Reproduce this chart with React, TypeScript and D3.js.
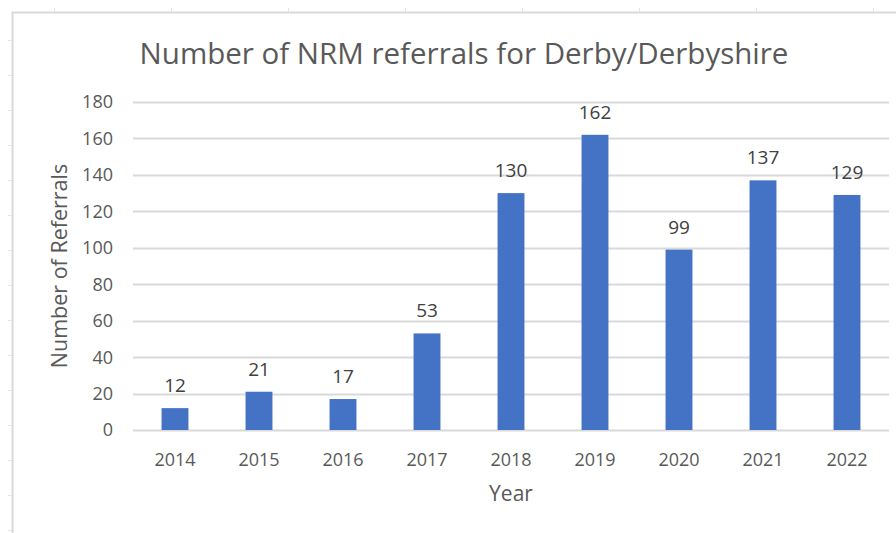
import React, { useEffect, useRef } from "react";
import * as d3 from "d3";

const years = ["2014", "2015", "2016", "2017", "2018", "2019", "2020", "2021", "2022"];
const referrals = [12, 21, 17, 53, 130, 162, 99, 137, 129];
const yTicks = [0, 20, 40, 60, 80, 100, 120, 140, 160, 180];

const chartTitle = "Number of NRM referrals for Derby/Derbyshire";
const xTitle = "Year";
const yTitle = "Number of Referrals";

const width = 896;
const height = 533;
const margin = { top: 102, right: 7, bottom: 103, left: 133 };
const font = "'Open Sans', 'Noto Sans', sans-serif";
const textColor = "#595959";

const App = () => {
  const svgRef = useRef<SVGSVGElement>(null);

  useEffect(() => {
    const svg = d3.select(svgRef.current);
    svg.selectAll("*").remove();

    // spreadsheet frame behind the chart
    const frame = svg.append("g");
    frame
      .append("path")
      .attr("d", `M12.5,${height} V12.5 H${width}`)
      .attr("fill", "none")
      .attr("stroke", "#d9d9d9")
      .attr("stroke-width", 2);
    frame
      .selectAll(".ct")
      .data(d3.range(54, width, 117))
      .join("line")
      .attr("x1", (d) => d + 0.5)
      .attr("x2", (d) => d + 0.5)
      .attr("y1", 8)
      .attr("y2", 12)
      .attr("stroke", "#e3e3e3");
    frame
      .selectAll(".rt")
      .data(d3.range(40, height, 35))
      .join("line")
      .attr("x1", 8)
      .attr("x2", 12)
      .attr("y1", (d) => d + 0.5)
      .attr("y2", (d) => d + 0.5)
      .attr("stroke", "#e3e3e3");

    const x = d3
      .scaleBand()
      .domain(years)
      .range([margin.left, width - margin.right])
      .paddingInner(0.68)
      .paddingOuter(0.34);

    const y = d3
      .scaleLinear()
      .domain([0, 180])
      .range([height - margin.bottom, margin.top]);

    // gridlines
    svg
      .append("g")
      .selectAll("line")
      .data(yTicks)
      .join("line")
      .attr("x1", margin.left)
      .attr("x2", width - margin.right)
      .attr("y1", (d) => Math.round(y(d)) + 0.5)
      .attr("y2", (d) => Math.round(y(d)) + 0.5)
      .attr("stroke", "#d9d9d9")
      .attr("stroke-width", 2);

    // y tick labels
    svg
      .append("g")
      .selectAll("text")
      .data(yTicks)
      .join("text")
      .attr("x", 113)
      .attr("y", (d) => y(d))
      .attr("dy", "0.36em")
      .attr("text-anchor", "end")
      .attr("font-family", font)
      .attr("font-size", 18)
      .attr("fill", textColor)
      .text((d) => d);

    // bars
    svg
      .append("g")
      .selectAll("rect")
      .data(referrals)
      .join("rect")
      .attr("x", (_, i) => x(years[i])!)
      .attr("width", x.bandwidth())
      .attr("y", (d) => y(d))
      .attr("height", (d) => y(0) - y(d))
      .attr("fill", "#4472c4");

    // data labels
    svg
      .append("g")
      .selectAll("text")
      .data(referrals)
      .join("text")
      .attr("x", (_, i) => x(years[i])! + x.bandwidth() / 2)
      .attr("y", (d) => y(d) - 16)
      .attr("text-anchor", "middle")
      .attr("font-family", font)
      .attr("font-size", 19)
      .attr("fill", "#404040")
      .text((d) => d);

    // x tick labels
    svg
      .append("g")
      .selectAll("text")
      .data(years)
      .join("text")
      .attr("x", (d) => x(d)! + x.bandwidth() / 2)
      .attr("y", 466)
      .attr("text-anchor", "middle")
      .attr("font-family", font)
      .attr("font-size", 18)
      .attr("fill", textColor)
      .text((d) => d);

    // titles
    svg
      .append("text")
      .attr("x", 464)
      .attr("y", 64)
      .attr("text-anchor", "middle")
      .attr("font-family", font)
      .attr("font-size", 29.5)
      .attr("fill", textColor)
      .text(chartTitle);

    svg
      .append("text")
      .attr("x", 511)
      .attr("y", 501)
      .attr("text-anchor", "middle")
      .attr("font-family", font)
      .attr("font-size", 21)
      .attr("fill", textColor)
      .text(xTitle);

    svg
      .append("text")
      .attr("transform", `translate(67, 266) rotate(-90)`)
      .attr("text-anchor", "middle")
      .attr("font-family", font)
      .attr("font-size", 21.5)
      .attr("fill", textColor)
      .text(yTitle);
  }, []);

  return (
    <div style={{ position: "fixed", left: 0, top: 0 }}>
      <svg ref={svgRef} width={width} height={height} style={{ display: "block", background: "#fff" }} />
    </div>
  );
};

export default App;
